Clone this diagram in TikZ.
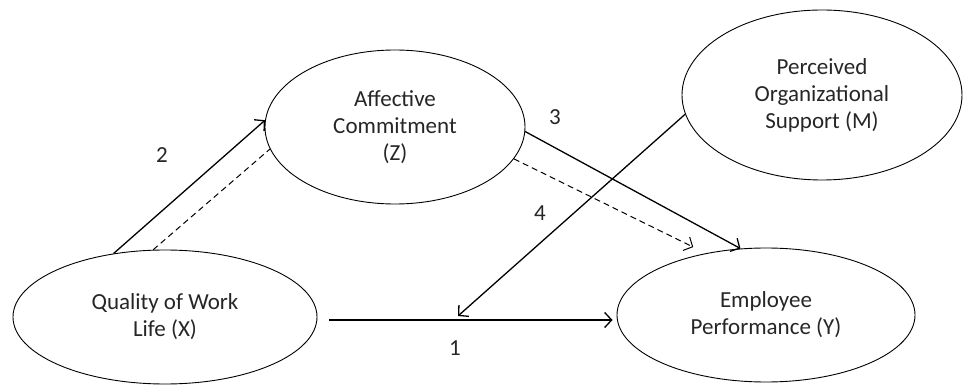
\documentclass[tikz,border=0pt]{standalone}
\usepackage{fontspec}
\setmainfont{Carlito}
\usetikzlibrary{shapes.geometric,arrows.meta}

\begin{document}
\begin{tikzpicture}[x=1pt,y=-1pt,
    var/.style={ellipse,draw,line width=0.9pt,inner sep=0pt,align=center,
      text=black!85,font=\fontsize{23}{27}\selectfont},
    arr/.style={line width=1.3pt,-{Straight Barb[length=7pt,width=15pt]}},
    dsh/.style={line width=1pt,dash pattern=on 6pt off 4pt},
    num/.style={text=black!85,font=\fontsize{23}{27}\selectfont}]
  \useasboundingbox (0,0) rectangle (964,387);
  % variables
  \node[var,minimum width=304pt,minimum height=134pt] (X) at (165,317) {Quality of Work\\Life (X)};
  \node[var,minimum width=260pt,minimum height=154pt] (Z) at (395,127) {Affective\\Commitment\\(Z)};
  \node[var,minimum width=280pt,minimum height=170pt] (M) at (822,95) {Perceived\\Organizational\\Support (M)};
  \node[var,minimum width=298pt,minimum height=134pt] (Y) at (766,315) {Employee\\Performance (Y)};
  % paths
  \draw[arr] ([xshift=12pt,yshift=-3pt]X.east) -- ([xshift=-4pt]Y.west |- 0,320) coordinate (Yin);
  \coordinate (mod) at (458,316);
  \draw[arr] (X.129) -- (Z.177);
  \draw[dsh] (X.100) -- (Z.190);
  \draw[arr] (Z.358) -- (Y.111);
  \draw[dsh,arr,line width=1pt] (Z.345) -- ([yshift=9pt]Y.141);
  \draw[arr] (M.188) -- (mod);
  % labels
  \node[num] (n1) at (455,348) {1};
  \node[num] (n2) at (162,155) {2};
  \node[num] (n3) at (555,117) {3};
  \node[num] (n4) at (540,213) {4};
\end{tikzpicture}
\end{document}
